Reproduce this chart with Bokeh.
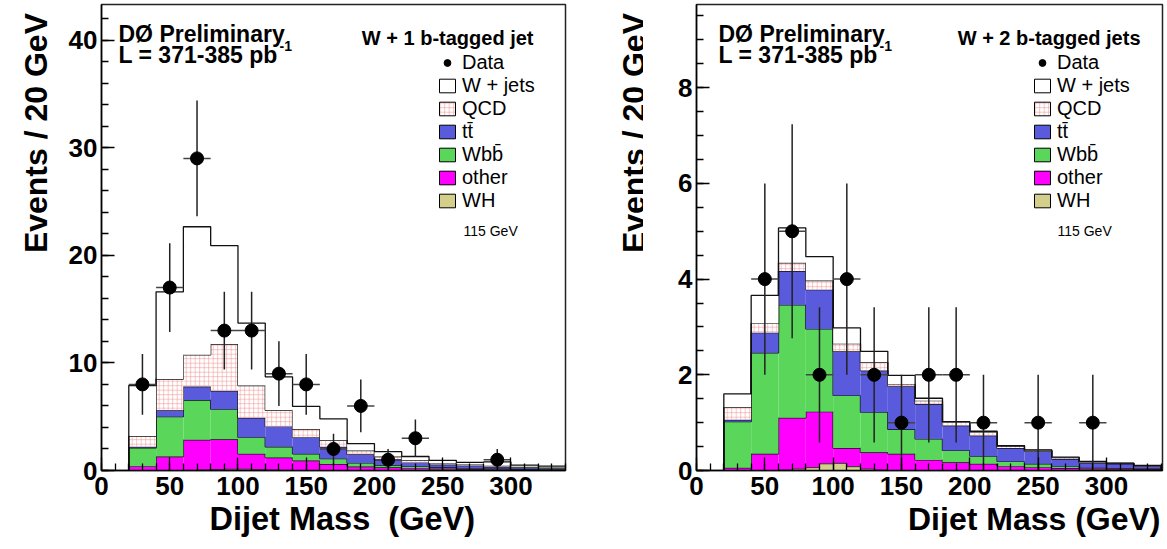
import numpy as np
from bokeh.plotting import figure
from bokeh.models import Range1d, Label, Legend, LegendItem, SingleIntervalTicker, Title
from bokeh.layouts import row
from bokeh.embed import file_html
from bokeh.resources import INLINE

# ---------------- data ----------------
bin_edges = list(range(20, 341, 20))          # 16 bins of 20 GeV
wh_edges = list(range(60, 141, 10))           # WH signal, 10 GeV bins

# W + 1 b-tagged jet
l_other = [0.4, 1.3, 2.85, 2.9, 1.55, 1.2, 0.93, 0.6, 0.37, 0.3, 0.22, 0.18, 0.14, 0.12, 0.1, 0.08]
l_wbb = [1.7, 3.7, 3.7, 2.8, 1.55, 1.0, 0.62, 0.5, 0.33, 0.2, 0.16, 0.12, 0.08, 0.06, 0.04, 0.04]
l_tt = [0.1, 0.6, 1.25, 1.7, 1.8, 1.9, 1.55, 1.1, 0.8, 0.5, 0.37, 0.25, 0.23, 0.17, 0.14, 0.1]
l_qcd = [1.0, 2.9, 2.95, 4.35, 3.0, 1.5, 0.75, 0.6, 0.35, 0.3, 0.2, 0.15, 0.1, 0.1, 0.06, 0.05]
l_wjets = [4.7, 8.1, 11.9, 9.15, 5.8, 3.1, 2.1, 2.0, 0.65, 0.45, 0.35, 0.25, 0.2, 0.35, 0.16, 0.13]
l_wh = [0.02, 0.05, 0.09, 0.12, 0.12, 0.08, 0.05, 0.02]
l_data = [8, 17, 29, 13, 13, 9, 8, 2, 6, 1, 3, 0, 0, 1, 0, 0]

# W + 2 b-tagged jets
r_other = [0.055, 0.35, 1.1, 1.23, 0.47, 0.38, 0.35, 0.22, 0.17, 0.14, 0.09, 0.07, 0.05, 0.04, 0.035, 0.03]
r_wbb = [0.965, 2.11, 2.36, 1.73, 1.1, 0.84, 0.51, 0.44, 0.25, 0.16, 0.10, 0.07, 0.04, 0.02, 0.015, 0.01]
r_tt = [0.04, 0.42, 0.71, 0.82, 0.92, 0.87, 0.90, 0.73, 0.52, 0.43, 0.28, 0.26, 0.15, 0.10, 0.09, 0.05]
r_qcd = [0.26, 0.20, 0.17, 0.19, 0.16, 0.17, 0.05, 0.07, 0.07, 0.07, 0.04, 0.02, 0.03, 0.02, 0.01, 0.01]
r_wjets = [0.28, 0.58, 0.73, 0.50, 0.33, 0.23, 0.18, 0.05, 0.01, 0.02, 0.01, 0.01, 0.01, 0.01, 0.005, 0.005]
r_wh = [0.01, 0.03, 0.06, 0.14, 0.15, 0.08, 0.03, 0.01]
r_data = [0, 4, 5, 2, 4, 2, 1, 2, 2, 1, 0, 1, 0, 1, 0, 0]

legend_names = ["Data", "W + jets", "QCD", "tt\u0304", "Wbb\u0304", "other", "WH"]

C_TT = "#5a5adc"
C_WBB = "#5ad65a"
C_OTHER = "#ff00ff"
C_WH = "#d3cf8b"
C_HATCH = "#f29a9a"
FONT = "Liberation Sans"
H = 549


def outline(edges, top):
    xs = [edges[0]]
    ys = [0.0]
    for i in range(len(top)):
        xs += [edges[i], edges[i + 1]]
        ys += [top[i], top[i]]
    xs.append(edges[-1])
    ys.append(0.0)
    return xs, ys


def ylabel_fig(width, baseline_x, text):
    """Narrow strip holding the vertical, top-aligned axis title."""
    f = figure(width=width, height=H, x_range=Range1d(0, width), y_range=Range1d(0, H),
               x_axis_type=None, y_axis_type=None, min_border=0, min_border_left=0,
               min_border_right=0, min_border_top=0, min_border_bottom=0,
               output_backend="svg", toolbar_location=None)
    f.outline_line_color = None
    f.background_fill_color = "white"
    f.border_fill_color = "white"
    f.add_layout(Label(x=baseline_x, y=H - 10, text=text, angle=np.pi / 2, text_align="right",
                       text_baseline="alphabetic", text_font=FONT, text_font_size="32px",
                       text_font_style="bold", text_color="black"))
    return f


def make_panel(x0, width, fl, fw, xmax, ymax, ytick, ynminor, comps, wh, data, texts, xlab):
    p = figure(width=width, height=H, x_range=Range1d(0, xmax), y_range=Range1d(0, ymax),
               min_border_left=fl - x0, min_border_right=width - (fl - x0) - fw, min_border_top=4,
               min_border_bottom=79, output_backend="svg", toolbar_location=None)
    p.xgrid.visible = False
    p.ygrid.visible = False
    p.outline_line_color = "#222222"
    p.outline_line_width = 1.5
    p.background_fill_color = "white"
    p.border_fill_color = "white"

    p.xaxis.ticker = SingleIntervalTicker(interval=50, num_minor_ticks=5)
    p.yaxis.ticker = SingleIntervalTicker(interval=ytick, num_minor_ticks=ynminor)
    for ax in (p.xaxis[0], p.yaxis[0]):
        ax.major_label_text_font = FONT
        ax.major_label_text_font_style = "bold"
        ax.major_label_text_font_size = "26px"
        ax.major_label_text_color = "black"
        ax.major_tick_in = 13
        ax.major_tick_out = 0
        ax.minor_tick_in = 7
        ax.minor_tick_out = 0
        ax.axis_line_width = 1.5
        ax.major_tick_line_width = 1.3
        ax.minor_tick_line_width = 1.3
        ax.axis_line_color = "black"
    p.xaxis.major_label_standoff = 6
    p.yaxis.major_label_standoff = 4

    edges = np.array(bin_edges, dtype=float)
    bottom = np.zeros(len(edges) - 1)
    proxies = {}
    for name, vals, col, hatch in comps:
        top = bottom + np.array(vals)
        kw = dict(fill_color=col, line_color=None)
        if hatch:
            kw.update(hatch_pattern=hatch, hatch_color=C_HATCH, hatch_scale=4.5, hatch_weight=0.6)
        p.quad(left=edges[:-1], right=edges[1:], bottom=bottom, top=top, **kw)
        xs, ys = outline(edges, top)
        p.line(xs, ys, line_color="#111111", line_width=1.3)
        pk = dict(fill_color=col, line_color="black", line_width=1)
        if hatch:
            pk.update(hatch_pattern=hatch, hatch_color=C_HATCH, hatch_scale=4.5, hatch_weight=0.6)
        proxies[name] = p.quad(left=edges[:-1], right=edges[1:], bottom=bottom, top=top,
                               visible=False, **pk)
        bottom = top

    whe = np.array(wh_edges, dtype=float)
    p.quad(left=whe[:-1], right=whe[1:], bottom=0, top=wh, fill_color=C_WH, line_color=None)
    xs, ys = outline(whe, np.array(wh))
    p.line(xs, ys, line_color="#333333", line_width=1)
    proxies["WH"] = p.quad(left=whe[:-1], right=whe[1:], bottom=0, top=wh, fill_color=C_WH,
                           line_color="black", line_width=1, visible=False)

    d = np.array(data, dtype=float)
    centers = (edges[:-1] + edges[1:]) / 2
    m = d > 0
    xc, yc = centers[m], d[m]
    err = np.sqrt(yc)
    p.segment(x0=xc, y0=yc - err, x1=xc, y1=yc + err, line_color="#222222", line_width=1.5)
    p.segment(x0=edges[:-1][m], y0=yc, x1=edges[1:][m], y1=yc, line_color="#444444", line_width=1.5)
    proxies["Data"] = p.scatter(xc, yc, size=13, marker="circle", fill_color="black", line_color="black")

    items = [LegendItem(label=n, renderers=[proxies[n]]) for n in legend_names]
    leg = Legend(items=items, location=(336, 258), padding=0, margin=0, spacing=0,
                 glyph_width=20, glyph_height=17, label_height=17, label_standoff=5,
                 label_text_font=FONT, label_text_font_size="20px", label_text_color="black",
                 border_line_alpha=0, background_fill_alpha=0, inactive_fill_alpha=0)
    p.add_layout(leg)

    def cx(px):
        return (px - fl) * xmax / fw

    def cy(py):
        return (470 - py) * ymax / 466

    for t, px, py, size, bold, align in texts:
        p.add_layout(Label(x=cx(px), y=cy(py), text=t, text_font=FONT, text_font_size=f"{size}px",
                           text_font_style="bold" if bold else "normal", text_align=align,
                           text_baseline="alphabetic", text_color="black"))

    t, align, offset, standoff, size = xlab
    p.add_layout(Title(text=t, align=align, offset=offset, standoff=standoff, text_font=FONT,
                       text_font_size=f"{size}px", text_font_style="bold", text_color="black"), "below")
    return p


left_comps = [("other", l_other, C_OTHER, None), ("Wbb\u0304", l_wbb, C_WBB, None),
              ("tt\u0304", l_tt, C_TT, None), ("QCD", l_qcd, "white", "+"),
              ("W + jets", l_wjets, "white", None)]
right_comps = [("other", r_other, C_OTHER, None), ("Wbb\u0304", r_wbb, C_WBB, None),
               ("tt\u0304", r_tt, C_TT, None), ("QCD", r_qcd, "white", "+"),
               ("W + jets", r_wjets, "white", None)]

# text positions in page pixels (x, baseline y)
left_texts = [("D\u00d8 Preliminary", 118, 33.5, 23, True, "left"),
              ("L = 371-385 pb", 118, 54, 23, True, "left"),
              ("-1", 279, 45, 14, True, "left"),
              ("W + 1 b-tagged jet", 533, 37, 20, True, "right"),
              ("115 GeV", 463, 230, 14, False, "left")]
right_texts = [("D\u00d8 Preliminary", 718, 33.5, 23, True, "left"),
               ("L = 371-385 pb", 718, 54, 23, True, "left"),
               ("-1", 879, 45, 14, True, "left"),
               ("W + 2 b-tagged jets", 1140, 37, 20, True, "right"),
               ("115 GeV", 1057, 230, 14, False, "left")]

lab1 = ylabel_fig(48, 35, "Events / 20 GeV")
p1 = make_panel(48, 535, 101, 464, 340, 43.3, 10, 5, left_comps, l_wh, l_data, left_texts,
                ("Dijet Mass \u00a0(GeV)", "left", 108, 2, 32.5))
lab2 = ylabel_fig(60, 633 - 583, "Events / 20 GeV")
p2 = make_panel(643, 524, 696, 466, 341, 9.74, 2, 4, right_comps, r_wh, r_data, right_texts,
                ("Dijet Mass (GeV)", "right", 2, 2, 32))

layout = row(lab1, p1, lab2, p2)
open("out.html", "w").write(file_html(layout, INLINE))
